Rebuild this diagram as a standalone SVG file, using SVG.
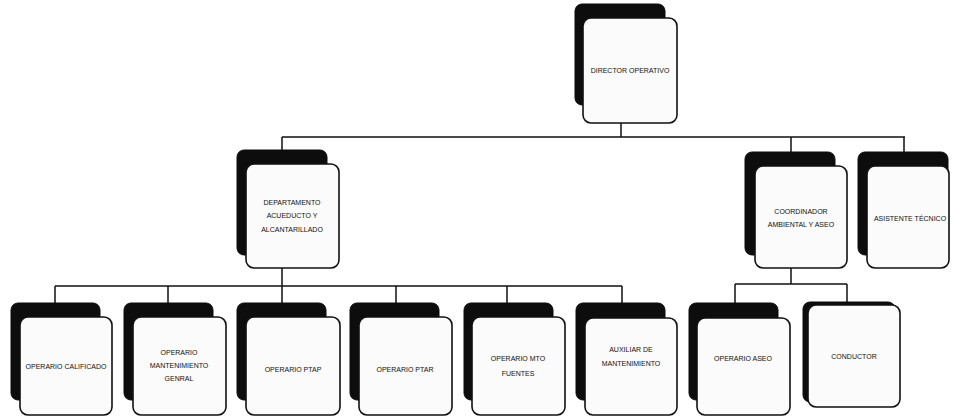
<svg xmlns="http://www.w3.org/2000/svg" width="953" height="418" viewBox="0 0 953 418">
<style>
.sh{fill:#0d0d0d;stroke:#0d0d0d;stroke-width:1}
.bx{fill:#fbfbfb;stroke:#111;stroke-width:1.6}
.t{font-family:"Liberation Sans",Arial,sans-serif;font-size:7px;fill:#111;text-anchor:middle}
.c{fill:none;stroke:#111;stroke-width:1.5}
</style>
<rect width="953" height="418" fill="#ffffff"/>
<g id="connectors">
<path class="c" d="M621 123V137M282 137H905M282 137V150M791 137V152M904 137V152"/>
<path class="c" d="M282 268V286M55 286H622M55 286V303M168 286V303M282 286V303M396 286V303M507 286V303M622 286V303"/>
<path class="c" d="M791 268V284M735 284H847M735 284V303M847 284V303"/>
</g>
<g id="director"><rect class="sh" x="575" y="4" width="90" height="101" rx="7"/><rect class="bx" x="583" y="18" width="94" height="105" rx="8"/><text class="t" x="630" y="73">DIRECTOR OPERATIVO</text></g>
<g id="departamento"><rect class="sh" x="237" y="150" width="90" height="105" rx="7"/><rect class="bx" x="246" y="164" width="93" height="104" rx="8"/><text class="t" x="292" y="205">DEPARTAMENTO</text><text class="t" x="292" y="218">ACUEDUCTO Y</text><text class="t" x="292" y="232">ALCANTARILLADO</text></g>
<g id="coordinador"><rect class="sh" x="745" y="152" width="90" height="103" rx="7"/><rect class="bx" x="755" y="166" width="92" height="102" rx="8"/><text class="t" x="801" y="214">COORDINADOR</text><text class="t" x="801" y="227">AMBIENTAL Y ASEO</text></g>
<g id="asistente"><rect class="sh" x="858" y="152" width="90" height="103" rx="7"/><rect class="bx" x="867" y="166" width="82" height="102" rx="8"/><text class="t" x="910" y="221">ASISTENTE TÉCNICO</text></g>
<g id="operario-calificado"><rect class="sh" x="11" y="303" width="89" height="97" rx="7"/><rect class="bx" x="20" y="317" width="92" height="98" rx="8"/><text class="t" x="66" y="369">OPERARIO CALIFICADO</text></g>
<g id="operario-mantenimiento"><rect class="sh" x="124" y="303" width="89" height="97" rx="7"/><rect class="bx" x="133" y="317" width="93" height="98" rx="8"/><text class="t" x="179" y="355">OPERARIO</text><text class="t" x="179" y="368">MANTENIMIENTO</text><text class="t" x="179" y="381">GENRAL</text></g>
<g id="operario-ptap"><rect class="sh" x="237" y="303" width="89" height="97" rx="7"/><rect class="bx" x="246" y="317" width="94" height="98" rx="8"/><text class="t" x="293" y="372">OPERARIO PTAP</text></g>
<g id="operario-ptar"><rect class="sh" x="350" y="303" width="89" height="97" rx="7"/><rect class="bx" x="359" y="317" width="93" height="98" rx="8"/><text class="t" x="405" y="372">OPERARIO PTAR</text></g>
<g id="operario-mto"><rect class="sh" x="464" y="303" width="89" height="97" rx="7"/><rect class="bx" x="472" y="317" width="93" height="98" rx="8"/><text class="t" x="518" y="361">OPERARIO MTO</text><text class="t" x="518" y="376">FUENTES</text></g>
<g id="auxiliar"><rect class="sh" x="576" y="303" width="89" height="97" rx="7"/><rect class="bx" x="585" y="318" width="92" height="97" rx="8"/><text class="t" x="631" y="352">AUXILIAR DE</text><text class="t" x="631" y="366">MANTENIMIENTO</text></g>
<g id="operario-aseo"><rect class="sh" x="689" y="303" width="89" height="97" rx="7"/><rect class="bx" x="697" y="318" width="93" height="97" rx="8"/><text class="t" x="743" y="361">OPERARIO ASEO</text></g>
<g id="conductor"><rect class="sh" x="803" y="302" width="92" height="100" rx="7"/><rect class="bx" x="808" y="305" width="92" height="102" rx="8"/><text class="t" x="854" y="359">CONDUCTOR</text></g>
</svg>
